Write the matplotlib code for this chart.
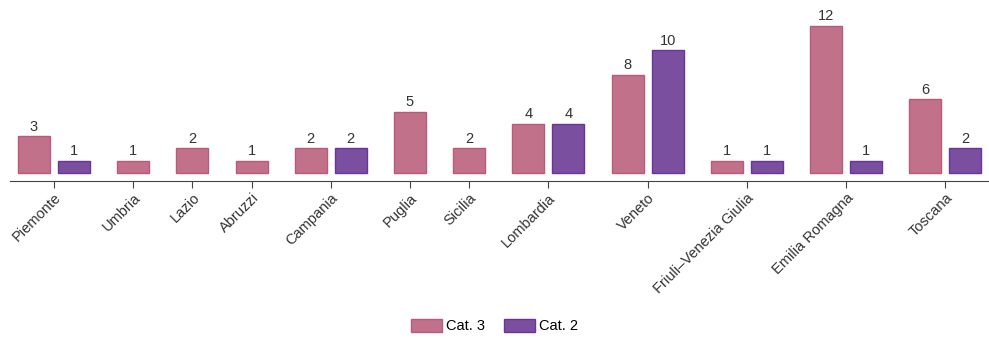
import numpy as np
import matplotlib.pyplot as plt
from matplotlib.patches import Patch

plt.rcParams['font.family'] = ['Liberation Sans', 'DejaVu Sans']

regions = ["Piemonte", "Umbria", "Lazio", "Abruzzi", "Campania", "Puglia",
           "Sicilia", "Lombardia", "Veneto", "Friuli\u2013Venezia Giulia",
           "Emilia Romagna", "Toscana"]
cat3 = [3, 1, 2, 1, 2, 5, 2, 4, 8, 1, 12, 6]
cat2 = [1, None, None, None, 2, None, None, 4, 10, 1, 1, 2]

c3_fill, c3_edge = "#c1718a", "#b95a7c"
c2_fill, c2_edge = "#7b4fa0", "#6a3596"

fig = plt.figure(figsize=(9.89, 3.38), dpi=100)
ax = fig.add_axes([10 / 989, 0.4645, 979 / 989, 0.5355])

# bars are packed: only present series take a slot, extra gap between groups
gap = 0.48
width = 0.8
slot = 0
centers = []
for g, name in enumerate(regions):
    xs = []
    for val, fc, ec in ((cat3[g], c3_fill, c3_edge), (cat2[g], c2_fill, c2_edge)):
        if val is None:
            continue
        x = slot + g * gap
        ax.bar(x, val, width=width, color=fc, edgecolor=ec, linewidth=1)
        ax.text(x, val + 0.2, str(val), ha='center', va='bottom',
                fontsize=10.5, color='#333333')
        xs.append(x)
        slot += 1
    centers.append(np.mean(xs))

ax.set_xlim(-0.6, 23.875)
ax.set_ylim(-0.65, 14.1)
for s in ['top', 'right', 'left']:
    ax.spines[s].set_visible(False)
ax.spines['bottom'].set_position(('data', -0.65))
ax.spines['bottom'].set_color('#444444')
ax.set_yticks([])
ax.set_xticks(centers)
ax.set_xticklabels(regions, rotation=45, ha='right', rotation_mode='anchor',
                   fontsize=10.5, color='#333333')
ax.tick_params(axis='x', length=5, color='#444444', pad=2)

handles = [Patch(facecolor=c3_fill, edgecolor=c3_edge, label="Cat. 3"),
           Patch(facecolor=c2_fill, edgecolor=c2_edge, label="Cat. 2")]
fig.legend(handles=handles, loc='center', bbox_to_anchor=(0.5, 0.035),
           ncol=2, frameon=False, fontsize=10.5, handlelength=2.1,
           handleheight=1.0, handletextpad=0.3, columnspacing=1.3)

fig.savefig("out.png", dpi=100)
